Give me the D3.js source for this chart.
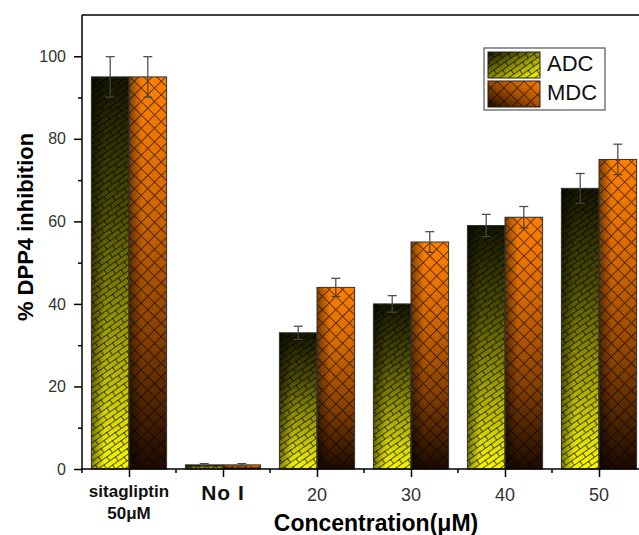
<!DOCTYPE html>
<html>
<head>
    <script src="https://d3js.org/d3.v7.min.js"></script>
    <style>
        body { margin: 0; background: white; }
        svg { display: block; font-family: "Liberation Sans", Arial, sans-serif; }
    </style>
</head>
<body>
    <div id="graph"></div>
    <script>
        const categories = ['sitagliptin', 'No I', '20', '30', '40', '50']
        const series = ['ADC', 'MDC']
        const adcValues = [95, 1, 33, 40, 59, 68]
        const adcErrors = [4.9, 0.3, 1.6, 2.0, 2.7, 3.6]
        const mdcValues = [95, 1, 44, 55, 61, 75]
        const mdcErrors = [4.9, 0.3, 2.2, 2.5, 2.6, 3.7]
        const yTicks = [0, 20, 40, 60, 80, 100]
        const yMinorTicks = [10, 30, 50, 70, 90]

        const w = 639, h = 535
        const padLeft = 82, padTop = 15, padBottom = 469, padRight = 646

        const svg = d3.select('#graph').append('svg')
            .attr('width', w).attr('height', h)

        const defs = svg.append('defs')

        function gradient(id, x1, y1, x2, y2, stops) {
            const g = defs.append('linearGradient').attr('id', id)
                .attr('x1', x1).attr('y1', y1).attr('x2', x2).attr('y2', y2)
            stops.forEach(s => g.append('stop').attr('offset', s[0])
                .attr('stop-color', s[1]).attr('stop-opacity', s[2] == null ? 1 : s[2]))
        }

        // bar gradients (vertical, per bar)
        gradient('gradADC', 0, 0, 0, 1, [['0%', '#161600'], ['35%', '#4e4e00'], ['70%', '#a8a800'], ['100%', '#f8f800']])
        gradient('gradMDC', 0, 0, 0, 1, [['0%', '#ff8000'], ['30%', '#d86a00'], ['65%', '#8a4200'], ['100%', '#1c0a00']])
        // side shading
        gradient('shade', 0, 0, 1, 0, [['0%', '#000', 0.5], ['35%', '#000', 0], ['100%', '#000', 0]])
        // legend gradients (diagonal)
        gradient('legADC', 0, 0, 1, 1, [['0%', '#141400'], ['50%', '#8a8a00'], ['100%', '#ffff00']])
        gradient('legMDC', 1, 0, 0, 1, [['0%', '#ff8000'], ['50%', '#a04c00'], ['100%', '#1c0a00']])

        // brick pattern for ADC
        const pB = defs.append('pattern').attr('id', 'brick')
            .attr('patternUnits', 'userSpaceOnUse')
            .attr('width', 14).attr('height', 10)
            .attr('patternTransform', 'rotate(-35)')
        pB.append('path')
            .attr('d', 'M0,0.5H14M0,5.5H14M0.5,0V5M7.5,5V10')
            .attr('stroke', '#000').attr('stroke-opacity', 0.65)
            .attr('stroke-width', 1).attr('fill', 'none')

        // crosshatch pattern for MDC
        const pC = defs.append('pattern').attr('id', 'cross')
            .attr('patternUnits', 'userSpaceOnUse')
            .attr('width', 9.5).attr('height', 9.5)
            .attr('patternTransform', 'rotate(45)')
        pC.append('path')
            .attr('d', 'M0,0.5H9.5M0.5,0V9.5')
            .attr('stroke', '#000').attr('stroke-opacity', 0.6)
            .attr('stroke-width', 1).attr('fill', 'none')

        const fills = { ADC: 'url(#gradADC)', MDC: 'url(#gradMDC)' }
        const legFills = { ADC: 'url(#legADC)', MDC: 'url(#legMDC)' }
        const patterns = { ADC: 'url(#brick)', MDC: 'url(#cross)' }

        const xScale = d3.scalePoint().domain(categories).range([padLeft, padRight]).padding(0.5)
        const step = xScale.step()
        const inner = d3.scaleBand().domain(series).range([-step * 0.4, step * 0.4])
        const yScale = d3.scaleLinear().domain([0, 110]).range([padBottom, padTop])

        const data = categories.flatMap((c, i) => [
            { cat: c, s: 'ADC', v: adcValues[i], e: adcErrors[i] },
            { cat: c, s: 'MDC', v: mdcValues[i], e: mdcErrors[i] }
        ])

        const plot = svg.append('g')
        const bx = d => xScale(d.cat) + inner(d.s)

        function barLayer(cls, fill) {
            return plot.selectAll('rect.' + cls).data(data).enter().append('rect')
                .attr('class', cls)
                .attr('x', bx)
                .attr('y', d => yScale(d.v))
                .attr('width', inner.bandwidth())
                .attr('height', d => padBottom - yScale(d.v))
                .attr('fill', fill)
        }
        barLayer('bar', d => fills[d.s])
        barLayer('shd', 'url(#shade)')
        barLayer('pat', d => patterns[d.s])
            .attr('stroke', '#333').attr('stroke-width', 1)

        // error bars
        const eb = plot.selectAll('g.err').data(data).enter().append('g')
            .attr('class', 'err')
            .attr('stroke', '#444').attr('stroke-width', 1.2)
        const cx = d => bx(d) + inner.bandwidth() / 2
        eb.append('line')
            .attr('x1', cx).attr('x2', cx)
            .attr('y1', d => yScale(d.v + d.e)).attr('y2', d => yScale(d.v - d.e))
        eb.append('line')
            .attr('x1', d => cx(d) - 4.5).attr('x2', d => cx(d) + 4.5)
            .attr('y1', d => yScale(d.v + d.e)).attr('y2', d => yScale(d.v + d.e))
        eb.append('line')
            .attr('x1', d => cx(d) - 4.5).attr('x2', d => cx(d) + 4.5)
            .attr('y1', d => yScale(d.v - d.e)).attr('y2', d => yScale(d.v - d.e))

        // y axis
        const yAxis = svg.append('g').attr('transform', `translate(${padLeft},0)`)
            .call(d3.axisLeft(yScale).tickValues(yTicks).tickSize(8).tickPadding(8))
        svg.append('g').attr('transform', `translate(${padLeft},0)`)
            .call(d3.axisLeft(yScale).tickValues(yMinorTicks).tickSize(4).tickFormat(''))
            .select('.domain').remove()

        // x axis
        const xAxis = svg.append('g').attr('transform', `translate(0,${padBottom})`)
            .call(d3.axisBottom(xScale).tickSize(8).tickFormat(''))
        const minorX = d3.range(categories.length + 1).map(i => padLeft + i * step)
        svg.append('g').selectAll('line').data(minorX).enter().append('line')
            .attr('x1', d => d).attr('x2', d => d)
            .attr('y1', padBottom).attr('y2', padBottom + 4)
            .attr('stroke', '#000').attr('stroke-width', 1.5)

        yAxis.select('.domain').remove()
        xAxis.select('.domain').remove()

        // frame lines
        svg.append('line').attr('x1', padLeft).attr('x2', padRight)
            .attr('y1', padTop).attr('y2', padTop)
            .attr('stroke', '#000').attr('stroke-width', 1.5)
        svg.append('line').attr('x1', padLeft).attr('x2', padLeft)
            .attr('y1', padTop).attr('y2', padBottom)
            .attr('stroke', '#000').attr('stroke-width', 1.5)
        svg.append('line').attr('x1', padLeft - 1).attr('x2', padRight)
            .attr('y1', padBottom).attr('y2', padBottom)
            .attr('stroke', '#000').attr('stroke-width', 1.5)
        svg.selectAll('.tick line').attr('stroke-width', 1.5)
        yAxis.selectAll('.tick text').attr('font-size', 16).attr('fill', '#333')
            .attr('font-family', '"Liberation Sans", Arial, sans-serif')

        // x tick labels
        const xl = svg.append('g').attr('fill', '#111')
        xl.append('text').attr('x', xScale('sitagliptin')).attr('y', 497)
            .attr('text-anchor', 'middle').attr('font-weight', 'bold').attr('font-size', 17)
            .text('sitagliptin')
        xl.append('text').attr('x', xScale('sitagliptin')).attr('y', 519)
            .attr('text-anchor', 'middle').attr('font-weight', 'bold').attr('font-size', 17)
            .text('50μM')
        xl.append('text').attr('x', xScale('No I')).attr('y', 500)
            .attr('text-anchor', 'middle').attr('font-weight', 'bold').attr('font-size', 21)
            .attr('letter-spacing', 1)
            .text('No I')
        categories.slice(2).forEach(c => {
            xl.append('text').attr('x', xScale(c)).attr('y', 501)
                .attr('text-anchor', 'middle').attr('font-size', 18).attr('fill', '#333')
                .text(c)
        })

        // axis titles
        svg.append('text').attr('x', 376).attr('y', 531)
            .attr('text-anchor', 'middle').attr('font-weight', 'bold').attr('font-size', 23)
            .text('Concentration(μM)')
        svg.append('text')
            .attr('transform', 'translate(33,227) rotate(-90)')
            .attr('text-anchor', 'middle').attr('font-weight', 'bold').attr('font-size', 22)
            .text('% DPP4 inhibition')

        // legend
        const lg = svg.append('g')
        lg.append('rect').attr('x', 484).attr('y', 48).attr('width', 121).attr('height', 62)
            .attr('fill', 'white').attr('stroke', '#555').attr('stroke-width', 1.2)
        series.forEach((s, i) => {
            const y0 = 52 + i * 29
            lg.append('rect').attr('x', 488).attr('y', y0).attr('width', 52).attr('height', 26)
                .attr('fill', legFills[s])
            lg.append('rect').attr('x', 488).attr('y', y0).attr('width', 52).attr('height', 26)
                .attr('fill', patterns[s]).attr('stroke', '#222').attr('stroke-width', 1)
            lg.append('text').attr('x', 547).attr('y', y0 + 19)
                .attr('font-size', 22).attr('fill', '#111').text(s)
        })
    </script>
</body>
</html>
